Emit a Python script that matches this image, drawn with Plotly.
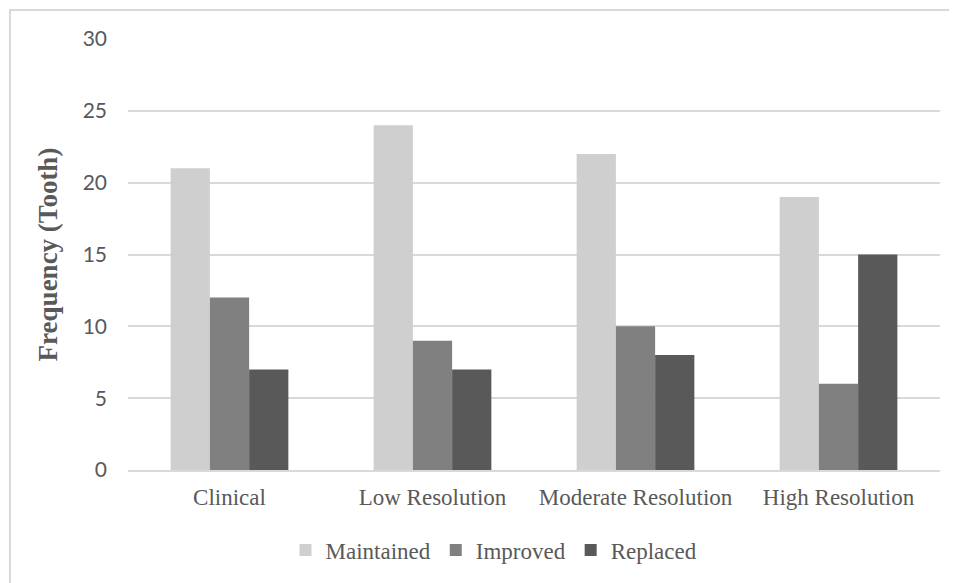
import plotly.graph_objects as go

categories = ["Clinical", "Low Resolution", "Moderate Resolution", "High Resolution"]
maintained = [21, 24, 22, 19]
improved = [12, 9, 10, 6]
replaced = [7, 7, 8, 15]
y_ticks = [0, 5, 10, 15, 20, 25, 30]

series = [
    ("Maintained", maintained, "#CFCFCF"),
    ("Improved", improved, "#808080"),
    ("Replaced", replaced, "#595959"),
]

fig = go.Figure()
for name, vals, color in series:
    fig.add_trace(go.Bar(x=categories, y=vals, name=name, marker_color=color,
                         marker_line_width=0))

serif = "Liberation Serif, Times New Roman, serif"
# page has an 8px body margin; figure coords = page coords - 8
OFF = 8
W, H = 957 - OFF, 583 - OFF
L, R, T, B = 128 - OFF, 17, 39 - OFF, 113
pw, ph = W - L - R, H - T - B
bottom = H - B

fig.update_layout(
    width=W, height=H,
    margin=dict(l=L, r=R, t=T, b=B),
    barmode="group", bargap=0.42, bargroupgap=0,
    plot_bgcolor="white", paper_bgcolor="white",
    font=dict(family=serif, color="#595959"),
    showlegend=True,
    legend=dict(orientation="h", x=(494 - 128) / 812, xanchor="center",
                y=-((550 - OFF) - bottom) / ph, yanchor="middle",
                font=dict(family=serif, size=23, color="#595959"),
                itemwidth=30, traceorder="normal"),
    xaxis=dict(showgrid=False, showline=True, linecolor="#D9D9D9", linewidth=1.5,
               tickfont=dict(family=serif, size=23, color="#595959"),
               ticks="", ticklabelstandoff=6),
    yaxis=dict(range=[0, 30], tickvals=y_ticks, showgrid=True, gridcolor="#D9D9D9",
               gridwidth=1.5, zeroline=False, showline=False, ticks="",
               tickfont=dict(family="Lato, Carlito, sans-serif", size=21, color="#595959"),
               ticklabelstandoff=20,
               title=dict(text="<b>Frequency (Tooth)</b>",
                          font=dict(family=serif, size=27, color="#595959"),
                          standoff=17)),
    shapes=[dict(type="rect", xref="paper", yref="paper",
                 x0=(10 - OFF - L) / pw, x1=(W + 20 - L) / pw,
                 y0=-(H + 20 - bottom) / ph, y1=(bottom - (10 - OFF)) / ph,
                 line=dict(color="#D9D9D9", width=2), layer="below")],
)

fig.write_html("out.html")
